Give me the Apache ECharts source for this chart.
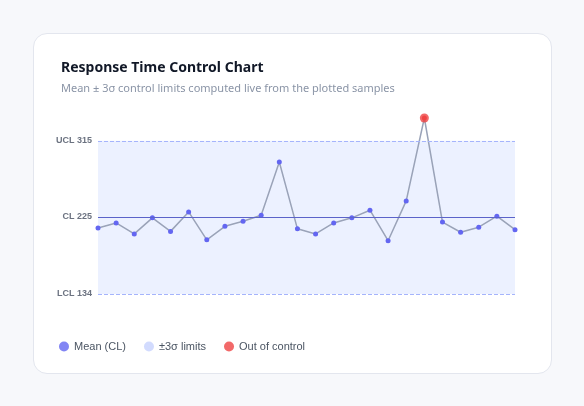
<!DOCTYPE html><html><head><meta charset="utf-8">
<script src="https://cdn.jsdelivr.net/npm/echarts@6/dist/echarts.min.js"></script>
<style>html,body{margin:0;background:#f7f8fb;width:584px;height:406px;font-family:"Noto Sans",sans-serif}
#card{position:absolute;left:33px;top:33px;width:517px;height:339px;background:#fff;border:1px solid #e3e6ee;border-radius:14px}
#c{position:absolute;left:0;top:0;width:584px;height:406px}</style></head><body>
<div id="card"></div><div id="c"></div>
<script>
const samples=['1','2','3','4','5','6','7','8','9','10','11','12','13','14','15','16','17','18','19','20','21','22','23','24'];
const values=[212,218,205,224,208,231,198,214,220,227,290,211,205,218,224,233,197,244,342,219,207,213,226,210];
const UCL=315, CL=225, LCL=134;
const outIdx=values.map((v,i)=>v>UCL||v<LCL?i:-1).filter(i=>i>=0);
const chart=echarts.init(document.getElementById('c'));
chart.setOption({
 animation:false,
 title:{text:'Response Time Control Chart',subtext:'Mean ± 3σ control limits computed live from the plotted samples',left:56,top:56,itemGap:8,
  textStyle:{fontSize:14,fontWeight:'bold',color:'#111827',fontFamily:'Noto Sans'},
  subtextStyle:{fontSize:11,color:'#8a94a6',fontFamily:'Noto Sans'}},
 legend:{left:54,top:336,itemWidth:10,itemHeight:10,itemGap:18,icon:'circle',textStyle:{fontSize:11,color:'#4b5563'},
  data:['Mean (CL)','±3σ limits','Out of control']},
 grid:{left:98,right:69,top:118,bottom:112},
 xAxis:{type:'category',data:samples,boundaryGap:false,show:false},
 yAxis:{type:'value',min:LCL,max:342,show:false,splitLine:{show:false}},
 series:[
  {name:'Samples',type:'line',data:values,symbol:'circle',symbolSize:5,
   lineStyle:{color:'#9aa3b8',width:1.5},
   itemStyle:{color:p=>outIdx.includes(p.dataIndex)?'#ef4444':'#6366f1'},
   markArea:{silent:true,itemStyle:{color:'rgba(224,231,255,0.6)'},data:[[{yAxis:LCL},{yAxis:UCL}]]},
   markLine:{silent:true,symbol:'none',
    label:{position:'start',fontSize:9,fontWeight:'bold',color:'#6b7280',distance:6},
    data:[
     {yAxis:UCL,label:{formatter:'UCL '+UCL},lineStyle:{color:'#a5b4fc',type:'dashed',width:1}},
     {yAxis:CL,label:{formatter:'CL '+CL},lineStyle:{color:'#5b63c9',type:'solid',width:1}},
     {yAxis:LCL,label:{formatter:'LCL '+LCL},lineStyle:{color:'#a5b4fc',type:'dashed',width:1}}]}},
  {name:'Out of control',type:'scatter',data:values.map((v,i)=>outIdx.includes(i)?v:null),symbolSize:9,itemStyle:{color:'#ef4444'},z:5},
  {name:'Mean (CL)',type:'scatter',data:[],itemStyle:{color:'#6366f1'}},
  {name:'±3σ limits',type:'scatter',data:[],itemStyle:{color:'#c7d2fe'}}
 ]});
</script></body></html>
